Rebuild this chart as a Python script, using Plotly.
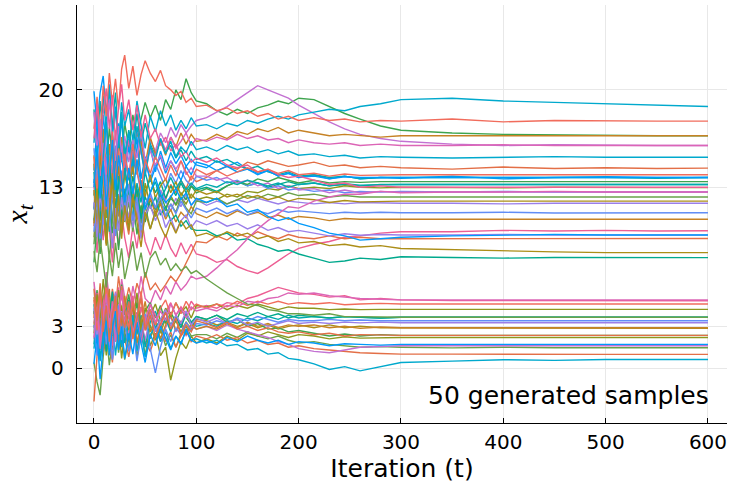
import plotly.graph_objects as go

t_knots = [0, 3, 6, 9, 12, 15, 18, 21, 24, 27, 30,
           34, 38, 42, 46, 50, 55, 60, 65, 70, 75, 80, 85, 90, 95, 100,
           110, 120, 130, 140, 150, 160, 170, 180, 190, 200,
           215, 230, 245, 260, 280, 300,
           350, 400, 450, 500, 550, 600]

x_ticks = [0, 100, 200, 300, 400, 500, 600]
y_ticks = [0, 3, 13, 20]
annotation_text = "50 generated samples"

s00 = [14.2, 17.5, 19.8, 21.0, 18.3, 20.4, 16.9, 18.8, 15.6, 17.9, 14.8,
       16.5, 13.9, 15.8, 17.2, 14.6, 15.9, 14.1, 15.6, 14.4, 15.5, 14.7, 15.3, 14.5, 15.0, 14.6,
       14.4, 14.9, 14.5, 14.8, 14.3, 14.0, 14.2, 13.8, 14.0, 13.7,
       13.9, 13.6, 13.8, 13.6, 13.7, 13.65,
       13.8, 13.6, 13.7, 13.75, 13.7, 13.7]
s01 = [10.2, 12.8, 9.1, 11.9, 13.6, 10.4, 8.7, 12.2, 10.9, 13.4, 11.1,
       9.6, 12.4, 10.8, 13.1, 11.5, 12.2, 11.4, 12.8, 12.1, 13.2, 12.6, 13.5, 12.9, 13.8, 13.4,
       13.7, 14.2, 14.5, 14.3, 14.8, 14.6, 14.9, 14.7, 14.5, 14.6,
       14.8, 14.5, 14.6, 14.4, 14.5, 14.4,
       14.3, 14.45, 14.35, 14.4, 14.35, 14.37]
s02 = [12.4, 15.1, 13.2, 16.8, 14.1, 17.3, 15.2, 13.6, 16.4, 14.8, 17.6,
       15.9, 18.2, 16.6, 17.9, 19.1, 18.0, 18.9, 17.8, 19.3, 18.6, 20.0, 19.3, 20.8, 19.8, 19.2,
       19.0, 18.5, 18.2, 18.6, 18.3, 18.7, 18.9, 19.2, 19.0, 19.4,
       19.3, 18.8, 18.3, 17.9, 17.4, 17.1,
       16.9, 16.8, 16.75, 16.7, 16.7, 16.7]
s03 = [11.5, 14.2, 12.1, 15.0, 13.4, 10.9, 13.8, 12.3, 14.9, 13.1, 15.6,
       13.7, 16.2, 14.4, 15.9, 14.1, 16.4, 15.6, 16.9, 16.2, 17.3, 16.6, 17.5, 16.9, 17.4, 17.8,
       18.0, 18.4, 18.8, 19.3, 19.8, 20.3, 20.0, 19.7, 19.4, 18.9,
       18.3, 17.7, 17.2, 16.8, 16.5, 16.3,
       16.1, 16.0, 16.05, 16.0, 16.0, 16.0]
s04 = [4.1, 1.8, 3.6, 5.2, 2.4, 4.7, 1.3, 3.9, 2.2, 4.5, 3.0,
       1.9, 3.8, 2.6, 4.4, 3.2, 2.1, 3.4, 2.5, 3.6, 2.7, 3.4, 2.6, 3.3, 2.8, 3.5,
       3.4, 3.1, 3.3, 3.0, 3.2, 2.9, 3.1, 2.8, 3.0, 3.1,
       2.9, 3.1, 2.9, 3.0, 2.9, 2.9,
       2.9, 2.85, 2.9, 2.85, 2.87, 2.86]
s05 = [18.6, 15.9, 19.2, 16.4, 18.1, 14.7, 17.5, 19.8, 16.2, 18.4, 15.3,
       17.1, 15.6, 18.3, 16.1, 17.6, 16.1, 15.3, 16.4, 15.5, 16.0, 15.1, 15.7, 14.9, 15.6, 15.0,
       15.2, 14.8, 15.0, 14.6, 14.3, 14.5, 14.1, 13.9, 14.1, 13.8,
       13.9, 13.7, 13.8, 13.6, 13.7, 13.7,
       13.7, 13.75, 13.7, 13.7, 13.65, 13.7]
s06 = [10.8, 8.3, 11.6, 9.2, 12.4, 9.9, 7.6, 10.5, 8.8, 11.3, 9.4,
       7.9, 10.2, 8.6, 11.0, 9.1, 8.1, 9.4, 8.5, 9.6, 8.6, 8.0, 9.0, 8.2, 8.9, 8.2,
       8.0, 7.6, 7.8, 7.3, 7.0, 6.8, 7.2, 7.7, 8.2, 8.6,
       8.9, 9.1, 9.4, 9.5, 9.7, 9.8,
       9.8, 9.9, 9.85, 9.9, 9.85, 9.87]
s07 = [15.3, 12.6, 14.9, 17.2, 13.8, 16.1, 12.9, 15.7, 13.4, 16.6, 14.2,
       12.8, 15.4, 13.9, 16.3, 14.6, 16.6, 15.4, 16.3, 15.3, 16.6, 15.9, 16.9, 16.1, 16.8, 16.3,
       16.4, 16.8, 16.5, 17.0, 16.8, 17.2, 17.0, 17.3, 16.9, 17.1,
       16.9, 16.7, 16.8, 16.7, 16.6, 16.7,
       16.7, 16.75, 16.7, 16.7, 16.72, 16.7]
s08 = [11.4, 13.9, 10.6, 12.8, 9.7, 12.3, 14.6, 11.2, 13.5, 10.8, 12.9,
       11.6, 13.8, 12.2, 10.9, 12.7, 13.6, 12.6, 13.4, 12.2, 13.1, 12.4, 13.3, 12.6, 13.1, 12.8,
       13.0, 12.7, 13.1, 13.4, 13.1, 13.3, 13.0, 13.2, 13.4, 13.2,
       13.3, 13.1, 13.2, 13.1, 13.2, 13.2,
       13.2, 13.2, 13.15, 13.2, 13.2, 13.2]
s09 = [9.4, 11.8, 8.6, 10.9, 13.1, 10.2, 12.6, 9.8, 11.5, 13.8, 11.0,
       12.9, 10.6, 12.4, 11.1, 13.3, 11.6, 10.9, 11.9, 11.3, 12.4, 11.7, 12.3, 11.8, 12.5, 12.1,
       12.3, 12.1, 12.5, 12.3, 12.7, 12.6, 12.9, 12.8, 13.1, 12.9,
       13.0, 12.9, 13.1, 13.0, 12.95, 13.0,
       12.97, 12.95, 13.0, 12.97, 12.97, 12.97]
s10 = [16.2, 18.9, 15.7, 19.6, 17.1, 20.2, 16.8, 18.5, 15.9, 19.1, 17.4,
       18.6, 16.3, 19.2, 17.5, 15.8, 18.1, 17.0, 18.5, 17.4, 18.2, 17.1, 17.8, 17.2, 18.0, 17.4,
       17.5, 17.2, 17.6, 17.4, 17.8, 17.6, 17.9, 18.1, 17.9, 18.2,
       18.4, 18.6, 18.5, 18.8, 19.0, 19.3,
       19.4, 19.2, 19.1, 19.0, 18.9, 18.8]
s11 = [13.6, 11.1, 14.3, 12.0, 15.2, 12.7, 10.4, 13.3, 11.6, 14.0, 12.2,
       10.8, 13.1, 11.4, 12.9, 10.7, 12.4, 11.5, 12.8, 12.0, 11.3, 12.2, 11.6, 12.5, 11.7, 12.1,
       11.7, 12.0, 11.8, 12.1, 11.9, 12.2, 12.0, 11.8, 12.0, 11.9,
       11.8, 11.9, 11.8, 11.9, 11.85, 11.85,
       11.85, 11.8, 11.85, 11.85, 11.9, 11.85]
s12 = [15.8, 13.2, 16.7, 14.1, 12.5, 15.3, 13.0, 16.0, 14.4, 12.7, 14.9,
       13.5, 15.6, 14.0, 12.6, 14.8, 13.6, 14.7, 13.8, 12.9, 14.0, 13.3, 14.2, 13.5, 13.1, 13.8,
       13.5, 13.7, 13.3, 13.5, 13.1, 13.3, 12.9, 13.1, 12.8, 12.9,
       12.7, 12.8, 12.6, 12.7, 12.65, 12.7,
       12.66, 12.7, 12.65, 12.66, 12.66, 12.66]
s13 = [17.2, 19.5, 16.8, 20.3, 18.1, 21.2, 19.0, 20.8, 18.6, 21.5, 22.5,
       20.1, 21.7, 19.6, 21.1, 22.1, 21.2, 20.6, 21.4, 20.3, 20.0, 19.6, 19.9, 19.1, 19.4, 18.8,
       18.9, 18.5, 18.7, 18.3, 18.5, 18.1, 18.3, 17.9, 18.1, 17.8,
       18.0, 17.8, 17.9, 17.7, 17.8, 17.75,
       17.9, 17.7, 17.8, 17.75, 17.75, 17.75]
s14 = [12.9, 15.4, 13.7, 16.2, 14.0, 11.8, 14.6, 17.1, 13.5, 15.8, 14.3,
       16.4, 14.7, 17.3, 15.5, 13.9, 15.9, 15.2, 16.5, 15.7, 16.6, 15.8, 16.3, 16.9, 16.0, 16.5,
       16.3, 16.6, 16.4, 16.8, 16.5, 16.7, 16.4, 16.5, 16.2, 16.4,
       16.2, 16.1, 16.2, 16.0, 16.1, 16.0,
       16.0, 16.05, 16.0, 16.0, 16.0, 16.0]
s15 = [8.9, 11.4, 9.6, 12.5, 10.1, 7.8, 10.7, 13.2, 9.9, 12.0, 10.5,
       11.9, 9.8, 12.6, 10.4, 11.7, 10.0, 11.2, 12.1, 10.9, 11.8, 11.2, 12.3, 11.5, 11.1, 12.0,
       11.9, 12.2, 11.8, 12.1, 12.4, 12.2, 12.5, 12.3, 12.6, 12.4,
       12.5, 12.3, 12.4, 12.3, 12.3, 12.3,
       12.3, 12.3, 12.25, 12.3, 12.3, 12.3]
s16 = [19.9, 17.1, 14.8, 18.2, 15.6, 13.4, 16.9, 14.2, 17.6, 15.0, 13.8,
       15.9, 14.1, 16.6, 13.6, 15.2, 13.4, 14.4, 15.2, 14.0, 14.9, 14.2, 13.5, 14.5, 13.9, 14.8,
       14.6, 14.2, 14.5, 14.1, 14.3, 13.9, 14.2, 13.8, 14.0, 13.7,
       13.8, 13.6, 13.75, 13.7, 13.7, 13.7,
       13.7, 13.7, 13.72, 13.7, 13.7, 13.7]
s17 = [3.6, 5.4, 2.8, 4.9, 6.3, 3.9, 5.7, 4.2, 6.6, 5.0, 4.4,
       5.8, 4.6, 6.1, 5.2, 6.9, 5.6, 6.1, 5.5, 6.0, 6.6, 6.2, 6.8, 7.5, 8.3, 9.1,
       9.0, 9.5, 9.2, 9.7, 9.4, 9.8, 9.5, 9.3, 9.6, 9.4,
       9.3, 9.5, 9.3, 9.4, 9.3, 9.3,
       9.3, 9.3, 9.32, 9.3, 9.31, 9.31]
s18 = [7.6, 10.3, 8.2, 11.5, 9.0, 12.2, 9.7, 11.0, 8.5, 10.8, 12.4,
       10.1, 12.0, 9.6, 11.7, 10.5, 12.1, 11.4, 12.5, 11.5, 12.2, 11.8, 12.6, 12.1, 13.1, 12.6,
       12.9, 12.6, 13.1, 13.4, 13.2, 13.6, 13.4, 13.7, 13.5, 13.3,
       13.5, 13.3, 13.4, 13.35, 13.4, 13.4,
       13.4, 13.4, 13.38, 13.4, 13.4, 13.4]
s19 = [18.4, 15.7, 17.9, 14.6, 16.8, 19.3, 16.1, 14.9, 17.4, 15.5, 16.7,
       14.8, 16.4, 15.1, 17.0, 14.9, 15.6, 14.6, 15.3, 14.2, 14.9, 14.3, 14.9, 13.9, 14.4, 13.8,
       13.8, 13.5, 13.7, 13.3, 13.5, 13.1, 13.3, 12.9, 13.1, 12.8,
       12.9, 12.6, 12.8, 12.6, 12.7, 12.65,
       12.66, 12.66, 12.7, 12.66, 12.66, 12.66]
s20 = [14.7, 12.1, 15.3, 13.0, 10.8, 13.6, 16.1, 12.9, 14.5, 11.7, 13.9,
       12.5, 14.6, 11.9, 13.5, 12.3, 13.9, 12.2, 13.1, 13.6, 12.6, 13.4, 12.4, 13.0, 12.2, 12.8,
       12.5, 12.7, 12.3, 12.5, 12.2, 12.4, 12.1, 12.3, 12.0, 12.2,
       12.1, 11.9, 12.05, 11.95, 12.0, 12.0,
       12.0, 12.02, 12.0, 12.0, 12.0, 12.0]
s21 = [10.6, 13.1, 11.4, 14.2, 12.0, 9.8, 12.7, 10.9, 13.8, 11.6, 14.4,
       12.6, 10.8, 13.3, 11.9, 14.1, 12.6, 13.4, 12.1, 12.9, 13.7, 12.9, 13.5, 12.8, 13.3, 12.9,
       13.2, 13.0, 13.4, 13.2, 13.5, 13.3, 13.1, 13.3, 13.0, 13.2,
       13.3, 13.1, 13.25, 13.15, 13.2, 13.2,
       13.2, 13.22, 13.2, 13.2, 13.2, 13.2]
s22 = [16.5, 19.0, 15.9, 18.3, 20.1, 17.2, 19.6, 16.4, 18.7, 20.4, 17.8,
       19.3, 17.1, 18.9, 16.6, 18.2, 16.5, 17.2, 16.0, 16.6, 15.6, 16.1, 15.2, 15.6, 14.8, 15.1,
       14.8, 15.1, 14.6, 14.4, 14.6, 14.1, 14.3, 13.9, 13.7, 13.8,
       13.5, 13.2, 13.3, 13.0, 13.1, 13.0,
       13.0, 13.0, 12.98, 13.0, 13.0, 13.0]
s23 = [12.8, 10.1, 13.4, 11.2, 8.9, 11.8, 14.0, 10.6, 12.5, 9.7, 11.9,
       10.4, 12.7, 11.0, 9.6, 11.5, 12.2, 11.1, 11.8, 10.7, 11.4, 10.5, 11.2, 10.8, 11.6, 11.1,
       10.8, 11.2, 10.9, 11.3, 11.0, 11.2, 10.8, 11.0, 10.7, 10.9,
       10.8, 10.6, 10.75, 10.7, 10.7, 10.7,
       10.7, 10.72, 10.7, 10.7, 10.7, 10.7]
s24 = [14.1, 11.6, 13.8, 10.9, 12.7, 15.0, 12.2, 13.9, 11.3, 13.5, 12.4,
       14.0, 11.8, 12.9, 10.7, 12.3, 11.5, 12.3, 11.0, 11.6, 10.6, 11.0, 10.2, 10.6, 10.0, 9.9,
       9.9, 9.5, 9.7, 9.2, 9.3, 8.9, 8.7, 8.4, 8.5, 8.2,
       7.9, 7.6, 7.7, 7.9, 7.8, 8.0,
       7.95, 7.9, 7.95, 7.94, 7.94, 7.94]
s25 = [2.5, 4.3, 1.6, 3.7, 0.9, 2.8, 4.6, 1.9, 3.2, 0.7, 2.6,
       1.4, 3.5, 0.8, 2.2, 3.8, 1.6, 2.5, 0.9, 1.5, -0.86, 0.7, 1.9, 1.4, 2.3, 1.8,
       2.1, 1.8, 2.3, 2.0, 2.5, 2.3, 2.6, 2.4, 2.2, 2.4,
       2.3, 2.1, 2.25, 2.15, 2.2, 2.2,
       2.2, 2.2, 2.18, 2.2, 2.2, 2.2]
s26 = [13.3, 16.0, 12.6, 15.4, 17.7, 14.2, 16.8, 13.7, 15.9, 18.3, 15.1,
       16.9, 14.5, 17.4, 15.6, 13.9, 16.0, 15.0, 16.5, 15.4, 16.3, 15.2, 15.9, 15.5, 16.3, 15.7,
       15.9, 15.6, 16.0, 15.7, 15.9, 15.5, 15.7, 15.4, 15.6, 15.3,
       15.4, 15.2, 15.3, 15.1, 15.2, 15.15,
       15.1, 15.15, 15.2, 15.15, 15.15, 15.15]
s27 = [11.9, 9.4, 12.6, 10.3, 13.1, 10.8, 8.6, 11.5, 9.9, 12.3, 10.6,
       12.4, 10.1, 11.7, 9.3, 11.0, 11.7, 10.6, 11.4, 10.1, 10.8, 9.8, 10.6, 11.0, 10.1, 10.6,
       10.3, 10.6, 10.2, 10.4, 10.0, 10.3, 9.9, 10.1, 9.8, 9.9,
       9.7, 9.5, 9.65, 9.55, 9.6, 9.57,
       9.57, 9.6, 9.57, 9.55, 9.57, 9.57]
s28 = [9.8, 12.5, 8.7, 11.3, 13.9, 10.2, 12.8, 9.5, 11.9, 14.2, 11.4,
       13.2, 10.6, 12.3, 9.9, 11.8, 12.6, 11.5, 12.3, 10.9, 11.8, 11.1, 12.0, 11.4, 10.8, 11.5,
       11.2, 11.5, 11.1, 11.4, 11.0, 11.3, 11.1, 11.4, 11.2, 11.3,
       11.2, 11.1, 11.2, 11.15, 11.2, 11.17,
       11.17, 11.2, 11.15, 11.17, 11.17, 11.17]
s29 = [15.2, 12.7, 16.3, 13.8, 11.4, 14.6, 17.0, 13.5, 15.8, 12.9, 15.4,
       13.7, 16.1, 14.2, 12.8, 15.0, 14.0, 15.2, 14.3, 13.5, 14.6, 13.8, 14.9, 14.1, 13.5, 14.3,
       13.9, 14.2, 13.8, 14.1, 14.4, 14.1, 14.3, 14.0, 14.2, 13.9,
       14.0, 13.8, 13.95, 13.85, 13.9, 13.9,
       13.9, 13.9, 13.92, 13.9, 13.9, 13.9]
s30 = [6.2, 4.1, 5.8, 3.4, 6.9, 4.8, 2.9, 5.5, 4.0, 6.4, 5.1,
       3.8, 5.9, 4.5, 6.6, 5.0, 4.6, 5.6, 4.9, 5.9, 5.3, 6.2, 5.6, 6.0, 6.6, 6.4,
       6.6, 7.2, 7.9, 8.5, 9.3, 10.0, 10.6, 11.1, 11.6, 11.5,
       12.0, 12.3, 12.5, 12.5, 12.7, 12.6,
       12.66, 12.66, 12.7, 12.66, 12.66, 12.66]
s31 = [0.4, -1.0, -1.95, 0.8, 2.6, 0.2, 1.9, 3.3, 1.1, 2.7, 0.6,
       2.2, 3.6, 1.4, 2.9, 0.9, 3.1, 2.0, 2.8, 1.6, 2.4, 1.5, 2.5, 3.0, 2.3, 2.4,
       2.4, 2.1, 2.5, 2.2, 2.6, 2.3, 2.1, 2.3, 2.0, 1.8,
       1.9, 1.7, 1.6, 1.5, 1.55, 1.5,
       1.45, 1.5, 1.46, 1.46, 1.46, 1.46]
s32 = [13.0, 15.7, 12.2, 14.9, 11.6, 14.1, 16.4, 12.8, 15.3, 13.6, 11.9,
       14.4, 12.5, 15.0, 13.2, 11.4, 12.6, 13.7, 12.5, 11.9, 12.3, 12.9, 12.1, 12.6, 11.7, 12.2,
       11.9, 12.2, 11.6, 11.8, 11.2, 11.4, 10.9, 10.6, 10.8, 10.4,
       10.1, 9.7, 9.5, 9.2, 9.3, 9.4,
       9.5, 9.55, 9.6, 9.57, 9.57, 9.57]
s33 = [-2.4, 0.9, 2.7, 1.1, 3.5, 1.8, 0.4, 2.9, 1.5, 3.8, 2.1,
       0.8, 2.6, 1.3, 3.2, 1.9, 1.2, 2.3, 3.1, 1.9, 2.6, 1.5, 2.3, 2.8, 1.9, 2.3,
       2.1, 2.4, 2.0, 2.2, 1.8, 2.0, 1.7, 1.8, 1.5, 1.6,
       1.4, 1.3, 1.2, 1.1, 1.05, 1.0,
       1.0, 0.98, 1.0, 0.98, 0.98, 0.98]
s34 = [3.9, 5.6, 2.7, 4.8, 6.2, 3.5, 5.1, 2.3, 4.4, 6.0, 3.8,
       5.3, 3.1, 4.7, 2.6, 4.1, 4.7, 3.6, 4.5, 3.2, 4.0, 3.3, 4.2, 3.6, 3.1, 3.7,
       3.5, 3.8, 3.3, 3.5, 3.0, 3.2, 2.8, 2.9, 2.6, 2.7,
       2.5, 2.3, 2.45, 2.3, 2.4, 2.35,
       2.35, 2.35, 2.37, 2.35, 2.35, 2.35]
s35 = [2.1, 4.0, 1.3, 3.3, 5.0, 2.6, 0.7, 3.1, 4.6, 1.9, 3.7,
       2.4, 4.3, 1.6, 3.5, 2.0, 3.7, 2.9, 1.9, 2.9, 3.7, 2.6, 3.3, 2.3, 3.0, 2.8,
       3.0, 2.7, 3.1, 2.8, 2.6, 2.4, 2.2, 1.9, 1.7, 1.4,
       1.2, 1.1, 1.3, 1.5, 1.55, 1.6,
       1.6, 1.62, 1.6, 1.6, 1.6, 1.6]
s36 = [10.4, 12.9, 9.7, 12.1, 8.8, 11.4, 13.6, 10.0, 12.4, 9.3, 11.7,
       9.9, 12.3, 10.5, 8.7, 11.2, 10.0, 11.3, 10.2, 9.4, 10.5, 9.7, 10.6, 10.0, 10.3, 9.5,
       9.7, 9.4, 9.8, 9.5, 9.7, 9.3, 9.5, 9.1, 9.3, 9.0,
       9.1, 8.8, 8.9, 8.7, 8.8, 8.6,
       8.5, 8.4, 8.35, 8.3, 8.3, 8.3]
s37 = [1.7, 3.9, 0.6, 2.8, 4.5, 1.9, 3.4, 5.3, 2.5, 4.1, 1.8,
       3.3, 4.9, 2.4, 3.8, 1.5, 3.3, 4.1, 2.9, 3.6, 2.6, 3.8, 3.1, 3.9, 3.3, 3.0,
       3.2, 3.0, 3.4, 3.2, 3.6, 3.4, 3.7, 3.5, 3.8, 3.6,
       3.7, 3.6, 3.7, 3.65, 3.6, 3.65,
       3.65, 3.65, 3.63, 3.65, 3.65, 3.65]
s38 = [3.2, 5.4, 2.1, 4.6, 6.1, 3.7, 1.6, 4.2, 5.8, 3.0, 4.9,
       3.5, 5.2, 2.8, 4.4, 3.1, 4.6, 3.8, 3.0, 4.0, 4.7, 3.8, 4.4, 3.9, 4.8, 4.3,
       4.5, 4.3, 4.7, 4.6, 5.0, 5.2, 5.5, 5.8, 5.6, 5.4,
       5.3, 5.1, 5.2, 4.9, 5.0, 4.9,
       4.85, 4.84, 4.85, 4.84, 4.84, 4.84]
s39 = [5.1, 2.9, 4.4, 1.6, 3.8, 5.7, 2.3, 4.0, 1.9, 3.6, 5.2,
       2.7, 4.5, 1.8, 3.3, 4.8, 2.6, 3.4, 2.1, 3.1, 3.8, 2.7, 3.4, 2.4, 3.2, 2.8,
       3.0, 2.8, 3.2, 2.9, 3.3, 3.0, 3.2, 2.9, 3.1, 3.0,
       3.1, 2.9, 3.0, 2.85, 2.95, 2.9,
       2.9, 2.9, 2.88, 2.9, 2.9, 2.9]
s40 = [4.6, 2.4, 5.1, 3.0, 1.2, 3.8, 5.5, 2.7, 4.3, 1.8, 3.5,
       4.9, 2.6, 4.0, 1.9, 3.3, 4.2, 2.9, 3.5, 4.0, 3.1, 3.7, 2.9, 3.9, 3.3, 3.7,
       3.5, 3.8, 3.5, 3.9, 3.7, 4.0, 3.7, 3.9, 3.6, 3.8,
       3.7, 3.6, 3.7, 3.65, 3.6, 3.65,
       3.65, 3.65, 3.67, 3.65, 3.65, 3.65]
s41 = [2.9, 5.3, 3.6, 6.4, 4.1, 2.2, 4.8, 3.1, 5.6, 3.9, 2.6,
       4.5, 3.2, 5.4, 2.8, 4.3, 3.8, 4.6, 3.4, 4.3, 3.7, 4.7, 4.0, 4.4, 3.6, 4.5,
       4.4, 4.6, 4.2, 4.5, 4.3, 4.6, 4.4, 4.2, 4.4, 4.3,
       4.3, 4.2, 4.25, 4.2, 4.22, 4.22,
       4.22, 4.22, 4.2, 4.22, 4.22, 4.22]
s42 = [1.4, 3.1, 0.5, 2.6, 4.2, 1.8, 3.6, 0.9, 2.9, 1.5, 3.3,
       2.0, 3.8, 1.2, 2.7, 0.8, 2.4, 3.0, 1.9, 2.6, 1.4, 2.3, 1.8, 2.7, 2.0, 2.1,
       1.8, 2.0, 1.6, 1.7, 1.3, 1.4, 1.0, 1.1, 0.7, 0.6,
       0.3, -0.1, 0.1, -0.2, 0.1, 0.4,
       0.5, 0.6, 0.55, 0.62, 0.62, 0.62]
s43 = [4.3, 2.0, 5.0, 2.8, 4.6, 1.5, 3.9, 5.4, 2.6, 4.1, 3.0,
       4.7, 2.3, 3.8, 5.2, 2.9, 3.9, 2.6, 3.5, 4.2, 3.0, 3.8, 3.2, 4.1, 3.1, 3.6,
       3.3, 3.6, 3.2, 3.5, 3.1, 3.3, 3.0, 3.2, 3.4, 3.2,
       3.3, 3.2, 3.3, 3.25, 3.3, 3.26,
       3.26, 3.26, 3.25, 3.26, 3.26, 3.26]
s44 = [3.1, 0.9, 2.5, 4.4, 1.7, 3.6, 0.6, 2.8, 4.5, 2.0, 3.4,
       1.2, 2.9, 0.5, 2.4, 3.9, 1.4, -0.34, 1.5, 2.8, 1.9, 2.9, 2.4, 3.3, 2.7, 3.2,
       3.1, 3.4, 3.2, 3.6, 3.4, 3.7, 3.5, 3.3, 3.5, 3.4,
       3.4, 3.5, 3.4, 3.45, 3.4, 3.4,
       3.4, 3.4, 3.38, 3.4, 3.4, 3.4]
s45 = [4.9, 2.7, 5.6, 3.3, 6.0, 4.1, 2.4, 4.7, 3.5, 5.9, 4.2,
       2.9, 4.8, 3.6, 5.5, 3.0, 4.2, 3.1, 4.3, 4.9, 3.8, 4.7, 3.9, 4.8, 4.2, 4.6,
       4.3, 4.6, 4.4, 4.8, 4.5, 4.8, 4.6, 4.8, 4.6, 4.7,
       4.6, 4.7, 4.55, 4.6, 4.65, 4.6,
       4.6, 4.6, 4.62, 4.6, 4.6, 4.6]
s46 = [2.2, 4.4, 1.4, 3.7, 5.3, 2.9, 4.8, 1.9, 3.5, 5.6, 3.1,
       4.6, 2.5, 3.9, 1.8, 3.4, 4.6, 3.3, 4.1, 3.4, 4.6, 3.8, 4.3, 3.6, 4.4, 4.1,
       4.3, 4.1, 4.5, 4.4, 4.8, 4.7, 5.0, 5.1, 5.4, 5.3,
       5.4, 5.2, 5.1, 5.0, 4.95, 4.9,
       4.9, 4.9, 4.88, 4.9, 4.9, 4.9]
s47 = [8.4, 6.9, 9.3, 7.5, 5.8, 8.1, 6.6, 9.0, 7.2, 8.6, 6.4,
       7.8, 9.1, 7.0, 8.3, 6.5, 7.9, 8.4, 7.4, 7.9, 7.0, 7.5, 7.0, 7.3, 6.8, 7.0,
       6.4, 5.9, 5.4, 5.0, 4.6, 4.5, 4.2, 4.1, 3.9, 3.9,
       3.8, 3.9, 3.7, 3.7, 3.65, 3.65,
       3.65, 3.65, 3.65, 3.66, 3.65, 3.65]
s48 = [0.3, 2.4, -0.8, 1.6, 3.4, 0.9, 2.8, 4.1, 1.3, 3.0, 0.7,
       2.5, 1.0, 3.3, 1.8, 0.4, 2.4, 1.6, 3.0, 2.1, 1.3, 2.3, 1.7, 2.8, 2.0, 1.8,
       2.0, 1.7, 2.2, 1.9, 2.3, 2.0, 1.8, 2.0, 1.7, 1.9,
       1.8, 1.6, 1.75, 1.7, 1.65, 1.7,
       1.7, 1.68, 1.7, 1.7, 1.7, 1.7]
s49 = [5.7, 3.4, 6.1, 2.6, 4.5, 1.9, 3.8, 5.2, 2.4, 4.0, 2.9,
       4.8, 2.1, 3.7, 5.0, 2.7, 3.8, 2.2, 3.2, 4.0, 2.8, 3.6, 2.3, 3.1, 2.6, 3.4,
       3.2, 2.9, 3.3, 2.8, 3.0, 2.7, 2.9, 2.6, 2.5, 2.6,
       2.4, 2.5, 2.3, 2.4, 2.35, 2.35,
       2.35, 2.35, 2.34, 2.35, 2.35, 2.35]

samples = [s00, s01, s02, s03, s04, s05, s06, s07, s08, s09,
           s10, s11, s12, s13, s14, s15, s16, s17, s18, s19,
           s20, s21, s22, s23, s24, s25, s26, s27, s28, s29,
           s30, s31, s32, s33, s34, s35, s36, s37, s38, s39,
           s40, s41, s42, s43, s44, s45, s46, s47, s48, s49]

bad = [i for i, s in enumerate(samples) if len(s) != len(t_knots)]
assert not bad, f"rows with wrong length: {[(i, len(samples[i])) for i in bad]}"

palette = ["#009AFA", "#E36F47", "#3EA44E", "#C371D2", "#AC8E18", "#00AAAE",
           "#ED5E93", "#C68225", "#00A98D", "#8E971D", "#00A9CD", "#9B7FE9",
           "#618DF6", "#F16C5C", "#DC65B6", "#6AA24A"]

FONT = "DejaVu Sans"

fig = go.Figure()
for i, ys in enumerate(samples):
    fig.add_trace(go.Scatter(
        x=t_knots, y=ys, mode="lines",
        line=dict(color=palette[i % len(palette)], width=1.4),
        showlegend=False, hoverinfo="skip"))

fig.add_annotation(
    x=603, y=-2.0, xref="x", yref="y", text=annotation_text,
    showarrow=False, xanchor="right", yanchor="middle",
    font=dict(family=FONT, size=25, color="black"))

axis_common = dict(
    showline=True, linecolor="black", linewidth=1.3, mirror=False,
    showgrid=True, gridcolor="#e8e8e8", gridwidth=1.3, zeroline=False,
    ticks="inside", ticklen=5, tickwidth=1.3, tickcolor="black",
    tickfont=dict(family=FONT, size=20, color="black"))

fig.update_xaxes(
    range=[-16.6, 618.6], tickvals=x_ticks,
    title=dict(text="Iteration (t)", font=dict(family=FONT, size=25, color="black"), standoff=4),
    ticklabelstandoff=1, **axis_common)
fig.update_yaxes(
    range=[-3.95, 26.1], tickvals=y_ticks,
    title=dict(text="<i>x</i><sub><i>t</i></sub>",
               font=dict(family="Liberation Serif", size=30, color="black"), standoff=14),
    ticklabelstandoff=8, **axis_common)

fig.update_layout(
    width=732, height=484,
    margin=dict(l=77, r=5, t=5, b=61, autoexpand=False),
    plot_bgcolor="white", paper_bgcolor="white",
    font=dict(family=FONT, color="black"))

fig.write_html("out.html")
